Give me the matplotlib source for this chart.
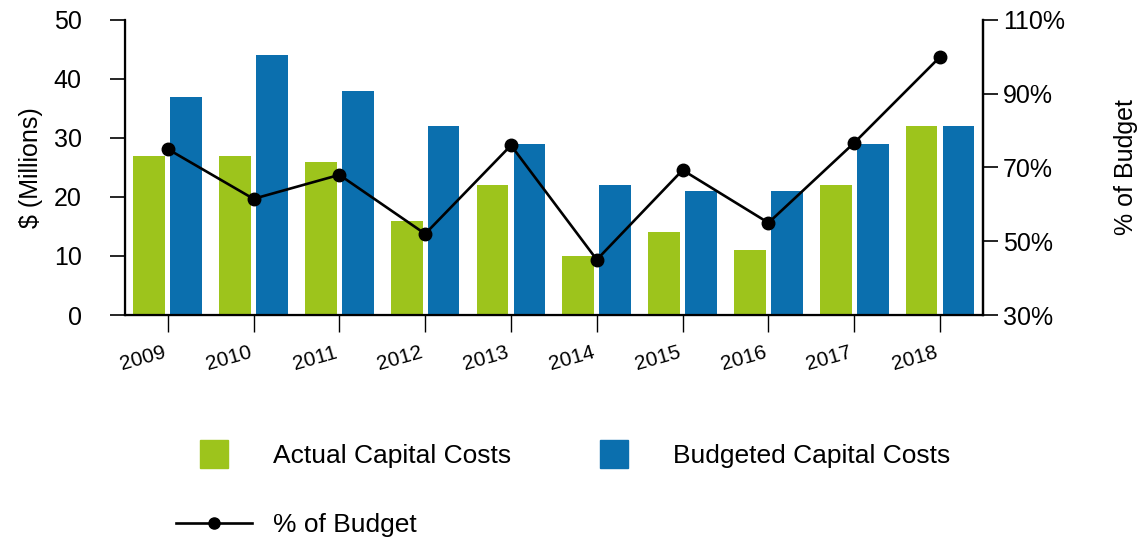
import numpy as np
import matplotlib.pyplot as plt
from matplotlib.lines import Line2D

plt.rcParams['font.family'] = ['Liberation Sans', 'DejaVu Sans']

years = ['2009', '2010', '2011', '2012', '2013', '2014', '2015', '2016', '2017', '2018']
actual = [27, 27, 26, 16, 22, 10, 14, 11, 22, 32]
budgeted = [37, 44, 38, 32, 29, 22, 21, 21, 29, 32]
pct_budget = [75, 61.5, 68, 52, 76, 45, 69.3, 55, 76.7, 100]

green = '#9dc41c'
blue = '#0b6fae'

fig = plt.figure(figsize=(11.45, 5.37), dpi=100)
ax = fig.add_axes([0.109, 0.4134, 0.7495, 0.5494])
x = np.arange(len(years))
w = 0.37
ax.bar(x - 0.215, actual, w, color=green)
ax.bar(x + 0.215, budgeted, w, color=blue)
ax.set_xlim(-0.5, 9.5)
ax.set_ylim(0, 50)
ax.set_yticks([0, 10, 20, 30, 40, 50])
ax.set_xticks(x)
ax.set_xticklabels(years, rotation=16, ha='right', fontsize=15)
ax.set_ylabel('$ (Millions)', fontsize=18, labelpad=8)
ax.tick_params(axis='y', labelsize=18, length=11, width=1.2, pad=20)
ax.tick_params(axis='x', length=12, width=1.0, pad=8)
ax.spines['top'].set_visible(False)
for s in ['left', 'bottom', 'right']:
    ax.spines[s].set_linewidth(1.6)

ax2 = ax.twinx()
ax2.plot(x, pct_budget, color='black', lw=1.9, marker='o', ms=9)
ax2.set_ylim(30, 110)
ax2.set_yticks([30, 50, 70, 90, 110])
ax2.set_yticklabels([f'{v}%' for v in [30, 50, 70, 90, 110]])
ax2.tick_params(axis='y', labelsize=18, length=11, width=1.2)
ax2.set_ylabel('% of Budget', fontsize=18, labelpad=35)
ax2.spines['top'].set_visible(False)
ax2.spines['right'].set_linewidth(1.6)

handles = [
    Line2D([], [], ls='none', marker='s', ms=20, color=green),
    Line2D([], [], color='black', lw=1.9, marker='o', ms=8),
    Line2D([], [], ls='none', marker='s', ms=20, color=blue),
]
labels = ['Actual Capital Costs', '% of Budget', 'Budgeted Capital Costs']
fig.legend(handles, labels, loc='upper left', bbox_to_anchor=(0.1425, 0.197),
           ncol=2, frameon=False, fontsize=19, handlelength=2.85,
           handletextpad=0.8, columnspacing=2.5, labelspacing=1.68, borderpad=0)

fig.savefig('out.png', dpi=100)
